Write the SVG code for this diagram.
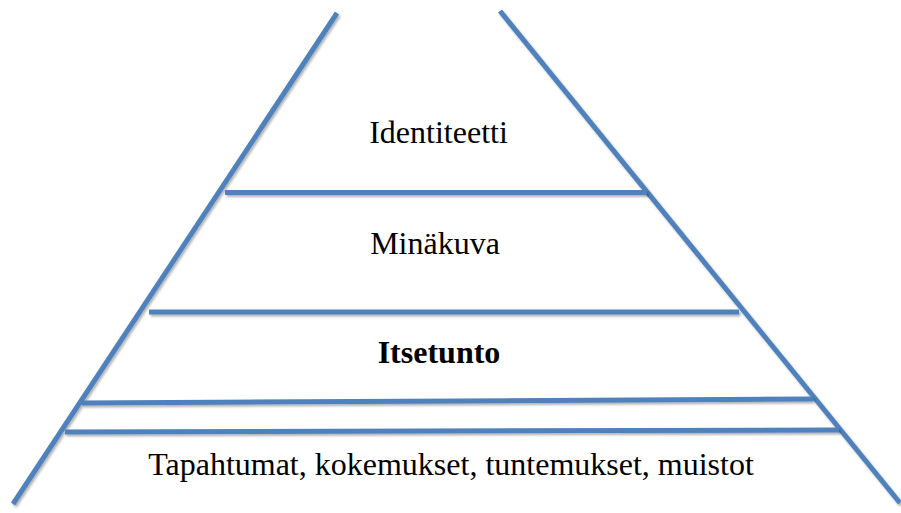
<svg xmlns="http://www.w3.org/2000/svg" width="901" height="513" viewBox="0 0 901 513">
<defs>
<filter id="sh" filterUnits="userSpaceOnUse" x="0" y="0" width="901" height="513">
<feDropShadow dx="1.5" dy="2" stdDeviation="1.2" flood-color="#000" flood-opacity="0.3"/>
</filter>
</defs>
<style>
.ln{stroke:#4f81bd;stroke-width:5;fill:none;filter:url(#sh)}
.t{font-family:"Liberation Serif","Times New Roman",serif;font-size:32px;fill:#000;text-anchor:middle}
.b{font-weight:bold}
</style>
<rect width="901" height="513" fill="#fff"/>
<g id="connectors">
<line class="ln" x1="337" y1="13" x2="13" y2="504"/>
<line class="ln" x1="500" y1="11" x2="900" y2="503"/>
<line class="ln" x1="225" y1="192.5" x2="647" y2="192.5"/>
<line class="ln" x1="149" y1="312" x2="739" y2="312"/>
<line class="ln" x1="82" y1="403" x2="813" y2="399"/>
<line class="ln" x1="65" y1="432" x2="839" y2="430"/>
</g>
<g id="identiteetti"><text class="t" x="438.5" y="143">Identiteetti</text></g>
<g id="minakuva"><text class="t" x="435" y="254">Minäkuva</text></g>
<g id="itsetunto"><text class="t b" x="439" y="363">Itsetunto</text></g>
<g id="tapahtumat"><text class="t" x="451" y="475">Tapahtumat, kokemukset, tuntemukset, muistot</text></g>
</svg>
